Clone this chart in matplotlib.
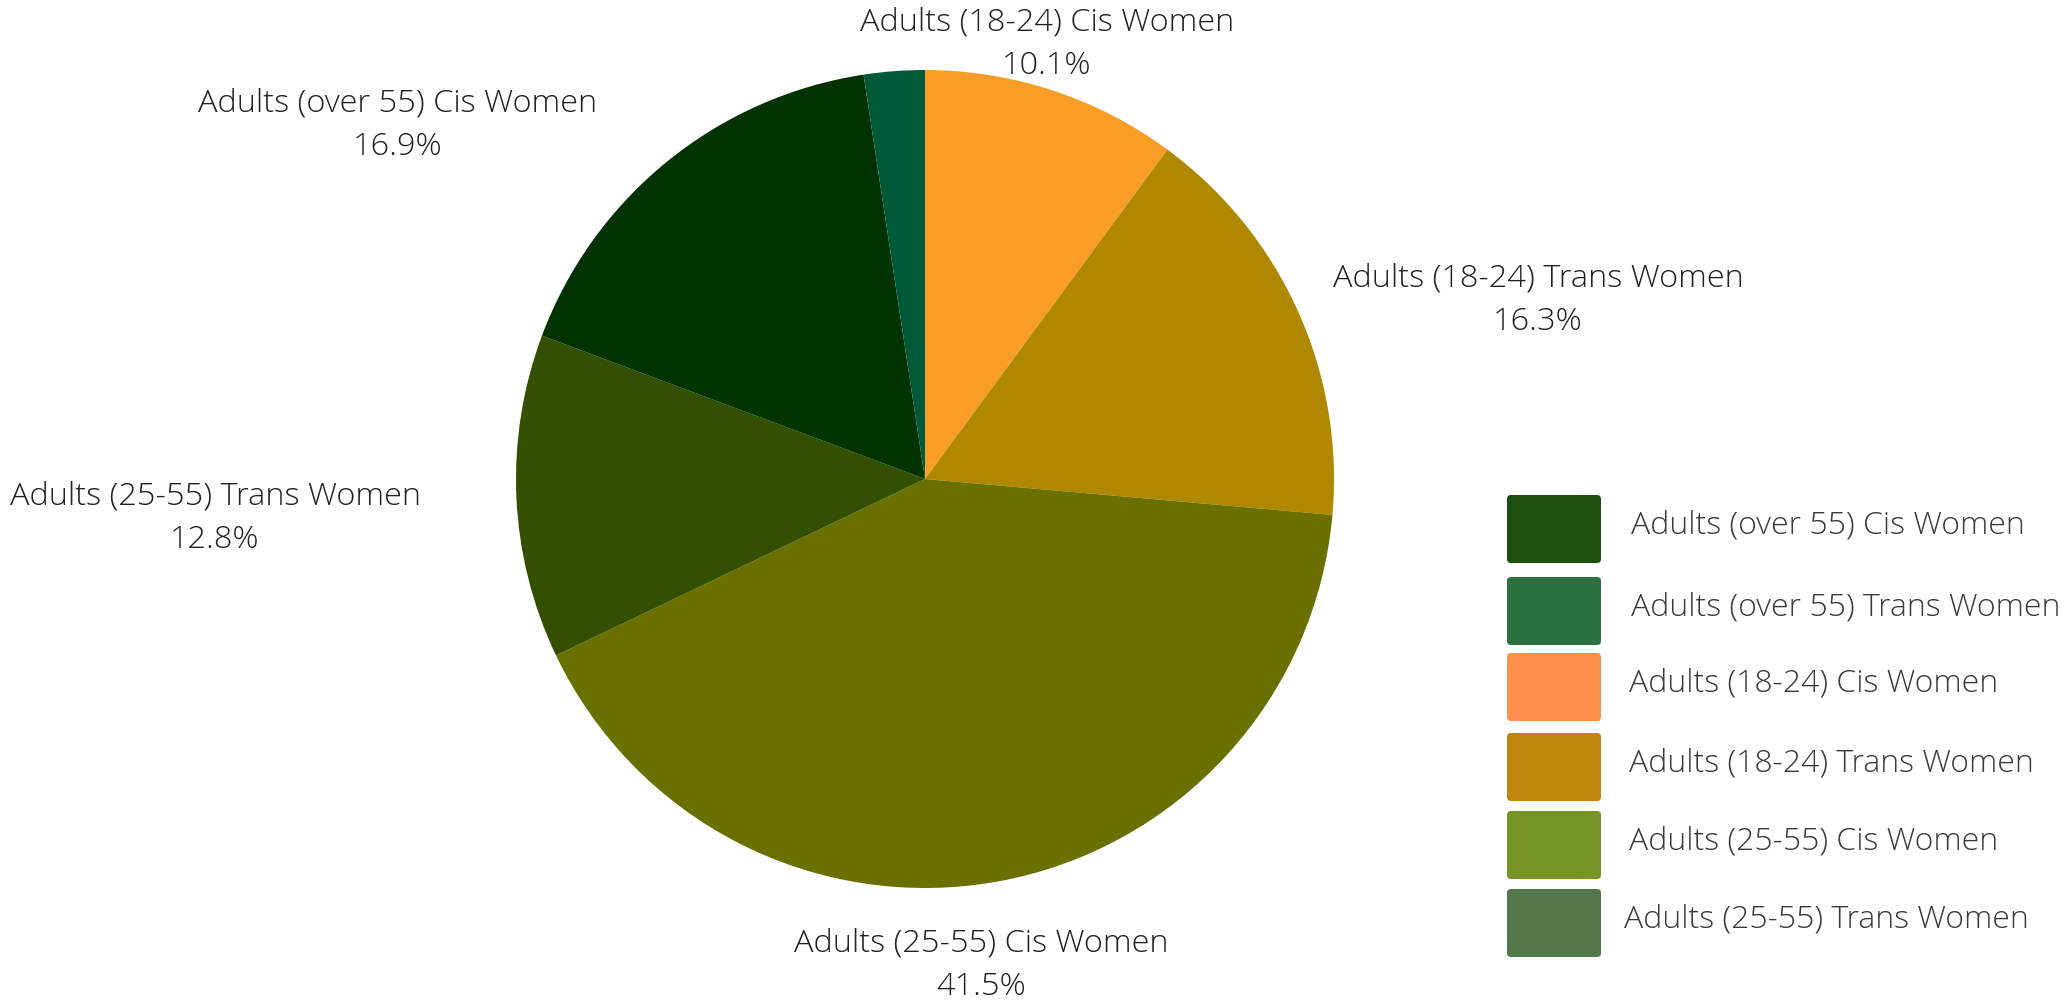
import matplotlib.pyplot as plt
from matplotlib.patches import FancyBboxPatch

# slice data, clockwise from 12 o'clock
labels = ['Adults (18-24) Cis Women', 'Adults (18-24) Trans Women',
          'Adults (25-55) Cis Women', 'Adults (25-55) Trans Women',
          'Adults (over 55) Cis Women', 'Adults (over 55) Trans Women']
shares = [10.1, 16.3, 41.5, 12.8, 16.9, 2.4]
pie_colors = ['#f99d27', '#b08800', '#6a7000', '#325000', '#003300', '#005a3a']
show_label = [True, True, True, True, True, False]

# legend (order and colours as in the original)
legend_labels = ['Adults (over 55) Cis Women', 'Adults (over 55) Trans Women',
                 'Adults (18-24) Cis Women', 'Adults (18-24) Trans Women',
                 'Adults (25-55) Cis Women', 'Adults (25-55) Trans Women']
legend_colors = ['#1e4f0e', '#2b7040', '#ff8f4a', '#c0860d', '#779426', '#55784b']

plt.rcParams['font.family'] = ['Open Sans', 'DejaVu Sans']

W, H = 2067, 1005
fig = plt.figure(figsize=(W / 100, H / 100), dpi=100)

# pie axes: centre (925, 479) px, radius 409 px
cx, cy, r = 925, 479, 409
ax = fig.add_axes([(cx - r) / W, (H - cy - r) / H, 2 * r / W, 2 * r / H])
ax.pie(shares, colors=pie_colors, startangle=90, counterclock=False, radius=1,
       wedgeprops=dict(linewidth=0))
ax.set_xlim(-1, 1)
ax.set_ylim(-1, 1)
ax.set_aspect('equal')
ax.axis('off')

# label block centres in figure pixels
label_pos = [(1047, 44), (1538, 300), (981, 965), (215, 518), (398, 125), None]
for lab, val, pos, show in zip(labels, shares, label_pos, show_label):
    if not show:
        continue
    fig.text(pos[0] / W, 1 - pos[1] / H, f'{lab}\n{val:.1f}%', ha='center', va='center',
             fontsize=23.4, fontweight='light', color='#222222', linespacing=1.47)

# legend drawn as rounded swatches
lax = fig.add_axes([0, 0, 1, 1])
lax.set_xlim(0, W)
lax.set_ylim(H, 0)
lax.axis('off')
row_tops = [495, 577, 653, 733, 811, 889]
text_x = [1631, 1631, 1629, 1629, 1629, 1624]
for top, tx, lab, col in zip(row_tops, text_x, legend_labels, legend_colors):
    lax.add_patch(FancyBboxPatch((1507, top), 94, 68, boxstyle='round,pad=0,rounding_size=4',
                                 facecolor=col, edgecolor='none'))
    lax.text(tx, top + 30, lab, ha='left', va='center', fontsize=23,
             fontweight='light', color='#3a3a3a')

fig.savefig('out.png', dpi=100)
